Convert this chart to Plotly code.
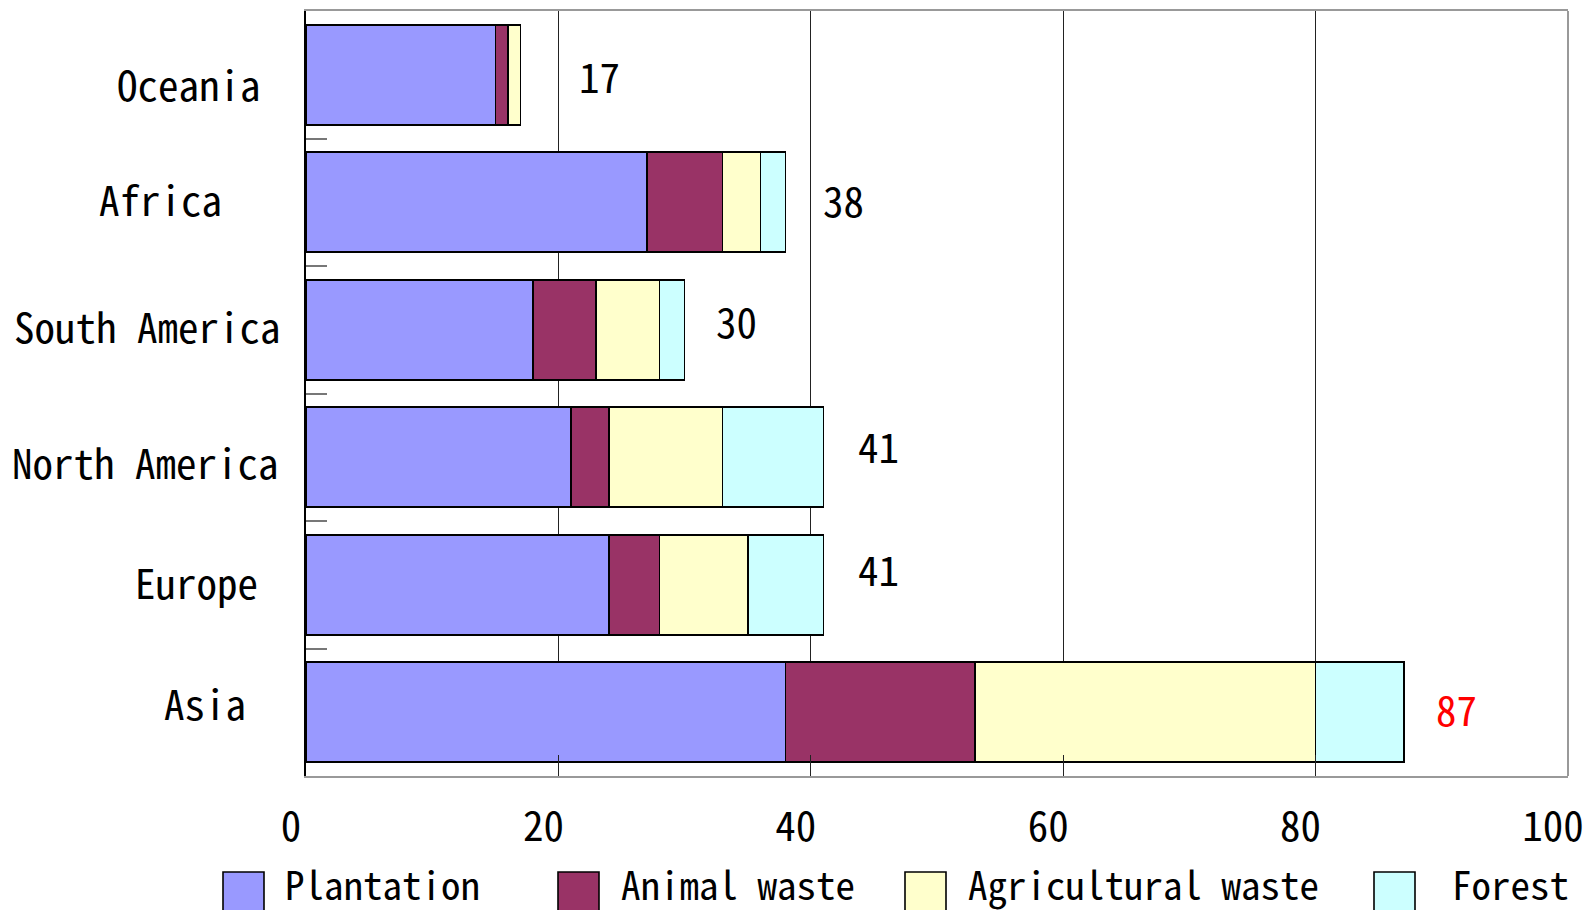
import plotly.graph_objects as go

# ---- data (bottom to top on the chart) ----
regions = ["Asia", "Europe", "North America", "South America", "Africa", "Oceania"]
plantation = [38, 24, 21, 18, 27, 15]
animal_waste = [15, 4, 3, 5, 6, 1]
agricultural_waste = [27, 7, 9, 5, 3, 1]
forest = [7, 6, 8, 2, 2, 0]
totals = [87, 41, 41, 30, 38, 17]
series_names = ["Plantation", "Animal waste", "Agricultural waste", "Forest"]
x_ticks = [0, 20, 40, 60, 80, 100]

# ---- styles ----
colors = ["#9999FF", "#993366", "#FFFFCC", "#CCFFFF"]
total_colors = ["#FF0000", "#000000", "#000000", "#000000", "#000000", "#000000"]
FONT = "Noto Sans Mono CJK JP, Liberation Sans, Arial, sans-serif"
FS = 41
FS_LEG = 39

W, H = 1587, 910
L, R, T, B = 306, 19, 11, 134
PW, PH = W - L - R, H - T - B


def px_x(px):
    return (px - L) / PW


def px_y(py):
    return (H - B - py) / PH


series_values = [plantation, animal_waste, agricultural_waste, forest]

fig = go.Figure()
for name, vals, col in zip(series_names, series_values, colors):
    fig.add_trace(go.Bar(
        y=regions, x=vals, name=name, orientation="h",
        marker=dict(color=col, line=dict(color="#000000", width=1.6)),
        showlegend=False,
    ))

# category labels (Excel-like placement); dy > 0 moves the text down
cat_label_px = [205, 196, 145, 147, 160, 189]
cat_label_dy = [-10, -4, 4, -5, -4, 8]
annotations = []
for reg, cx, dy in zip(regions, cat_label_px, cat_label_dy):
    annotations.append(dict(
        x=px_x(cx), xref="paper", y=reg, yref="y", text=reg, showarrow=False,
        xanchor="center", yanchor="middle", yshift=-dy,
        font=dict(family=FONT, size=FS, color="#000000"),
    ))

# total labels
total_dx = [30, 33, 33, 29, 35, 56]
total_dy = [-4, -17, -12.5, -10, -3.5, 0]
for reg, tot, dx, dy, c in zip(regions, totals, total_dx, total_dy, total_colors):
    annotations.append(dict(
        x=tot, xref="x", y=reg, yref="y", text=str(tot), showarrow=False,
        xanchor="left", yanchor="middle", xshift=dx, yshift=-dy,
        font=dict(family=FONT, size=FS, color=c),
    ))

# custom legend (large swatches)
legend_box_px = [223, 558, 905, 1374]
legend_text_px = [283, 619, 966, 1450]
shapes = []
for name, col, bx, tx in zip(series_names, colors, legend_box_px, legend_text_px):
    shapes.append(dict(
        type="rect", xref="paper", yref="paper",
        x0=px_x(bx), x1=px_x(bx + 41), y0=px_y(872), y1=px_y(914),
        fillcolor=col, line=dict(color="#000000", width=1.6), layer="above",
    ))
    annotations.append(dict(
        x=px_x(tx), xref="paper", y=px_y(853), yref="paper", text=name,
        showarrow=False, xanchor="left", yanchor="top",
        font=dict(family=FONT, size=FS_LEG, color="#000000"),
    ))

# right frame line (gray)
shapes.append(dict(type="line", xref="paper", yref="paper", x0=1, x1=1, y0=0, y1=1,
                   line=dict(color="#999999", width=2)))

fig.update_layout(
    width=W, height=H,
    margin=dict(l=L, r=R, t=T, b=B, pad=0),
    barmode="stack", bargap=0.216,
    plot_bgcolor="#FFFFFF", paper_bgcolor="#FFFFFF",
    font=dict(family=FONT, size=FS, color="#000000"),
    annotations=annotations, shapes=shapes,
    showlegend=False,
    xaxis=dict(
        range=[0, 100], tickvals=x_ticks, ticktext=[str(v) for v in x_ticks],
        showgrid=True, gridcolor="#222222", gridwidth=1,
        ticks="inside", ticklen=21, tickcolor="#222222", tickwidth=1,
        showline=True, linecolor="#999999", linewidth=2, mirror=True,
        zeroline=False, tickfont=dict(family=FONT, size=FS),
        ticklabelshift=-15, ticklabelstandoff=14, ticklabeloverflow="allow",
        automargin=False, fixedrange=True,
    ),
    yaxis=dict(
        type="category", categoryorder="array", categoryarray=regions,
        showticklabels=False, ticks="inside", tickson="boundaries",
        ticklen=21, tickcolor="#777777", tickwidth=1.5,
        showline=True, linecolor="#000000", linewidth=2, showgrid=False,
        zeroline=False, automargin=False, fixedrange=True,
    ),
)

fig.write_html("out.html")
